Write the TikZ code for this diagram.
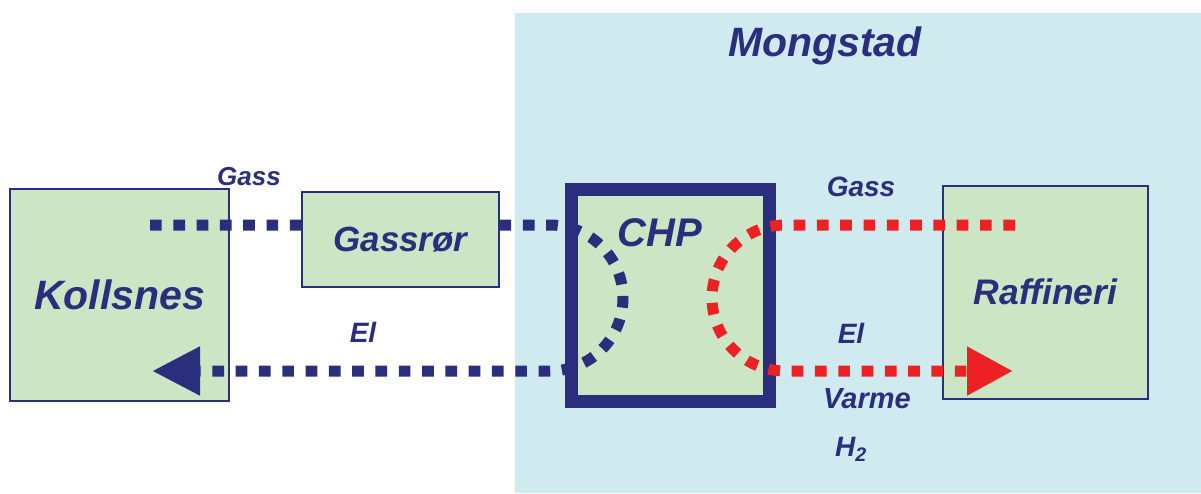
\documentclass[tikz,border=0pt]{standalone}
\usepackage{fontspec}
\setmainfont{Liberation Sans}
\usetikzlibrary{arrows.meta}
\definecolor{navy}{RGB}{42,46,124}
\definecolor{flowred}{RGB}{237,32,36}
\definecolor{boxgreen}{RGB}{204,229,196}
\definecolor{siteblue}{RGB}{207,235,239}
\begin{document}
\begin{tikzpicture}[x=1pt,y=-1pt]
\tikzstyle{site}=[draw=navy,line width=2pt,fill=boxgreen,inner sep=0pt,text=navy,font=\bfseries\itshape\fontsize{41}{48}\selectfont];
\tikzstyle{lbl}=[text=navy,inner sep=0pt,font=\bfseries\itshape\fontsize{28}{32}\selectfont];
\tikzstyle{flow}=[line width=11pt,dash pattern=on 11.7pt off 11.6pt];
\useasboundingbox (0,0) rectangle (1201,493);
% Mongstad area
\fill[siteblue] (515,13) rectangle (1201,493);
\node[lbl,font=\bfseries\itshape\fontsize{41}{48}\selectfont] (mongstad) at (825,46) {Mongstad};
% the plants
\node[site,minimum width=219pt,minimum height=212pt] (kollsnes) at (119.5,295) {Kollsnes};
\node[site,line width=13pt,minimum width=198pt,minimum height=212pt] (chp) at (670.5,295.5) {};
\node[lbl,font=\bfseries\itshape\fontsize{40}{48}\selectfont] (chptext) at (660,233) {CHP};
\node[site,font=\bfseries\itshape\fontsize{35.5}{42}\selectfont,minimum width=205pt,minimum height=213pt] (raffineri) at (1045.5,292) {Raffineri};
% flows
\coordinate (kin) at (150,225);
\coordinate (kout) at (152,371);
\coordinate (rin) at (1015,225);
\coordinate (rout) at (1013,371);
\coordinate (nturn) at (550,225);
\coordinate (rturn) at (785,225);
\draw[flow,navy,-{Triangle[length=48pt,width=46pt]}] (kin) -- (nturn) arc[start angle=-90,end angle=90,radius=73] -- (kout);
\draw[flow,flowred,-{Triangle[length=46pt,width=46pt]}] (rin) -- (rturn) arc[start angle=270,end angle=90,radius=73] -- (rout);
\node[site,font=\bfseries\itshape\fontsize{35}{42}\selectfont,minimum width=197pt,minimum height=95pt] (gassror) at (400.5,239.5) {Gassrør};
% labels
\node[lbl,font=\bfseries\itshape\fontsize{26}{30}\selectfont] (gassleft) at (249,177) {Gass};
\node[lbl] (elleft) at (363,332) {El};
\node[lbl] (gassright) at (861,187) {Gass};
\node[lbl] (elright) at (851,333) {El};
\node[lbl,font=\bfseries\itshape\fontsize{29}{32}\selectfont] (varme) at (867,399) {Varme};
\node[lbl] (htwo) at (851,449) {H\textsubscript{2}};
\end{tikzpicture}
\end{document}
